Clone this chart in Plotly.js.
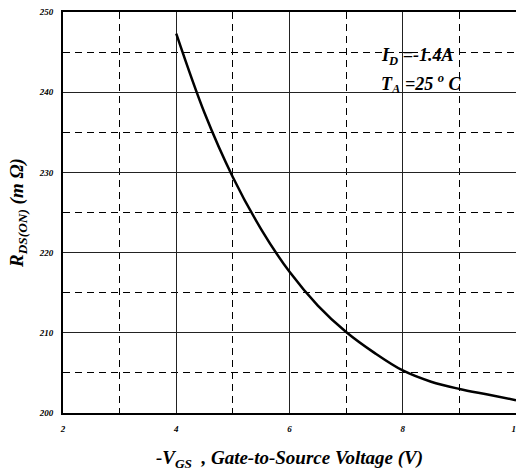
<!DOCTYPE html>
<html><head><meta charset="utf-8">
<script src="https://cdn.plot.ly/plotly-3.0.1.min.js"></script>
<style>html,body{margin:0;padding:0;background:#fff}</style>
</head><body><div id="chart" style="width:516px;height:474px"></div>
<script>
const vgs = [4.0, 4.5, 5.0, 5.5, 6.0, 6.5, 7.0, 7.5, 8.0, 8.5, 9.0, 9.5, 10.0];
const rdson = [247.3, 237.4, 229.4, 222.9, 217.6, 213.4, 210.1, 207.5, 205.3, 203.9, 203.0, 202.3, 201.6];
const xTicks = [2, 4, 6, 8, 10];
const yTicks = [200, 210, 220, 230, 240, 250];

const serif = 'Liberation Serif, Times New Roman, serif';
const tickFont = {family: serif, size: 9, color: '#000', weight: 'bold', style: 'italic'};
const annFont = {family: serif, size: 18, color: '#000', weight: 'bold', style: 'italic'};

Plotly.newPlot('chart', [{
  x: vgs, y: rdson, type: 'scatter', mode: 'lines',
  line: {color: '#000', width: 2.5, shape: 'spline', smoothing: 1},
  hoverinfo: 'skip'
}], {
  width: 516, height: 474,
  margin: {l: 63, r: 0, t: 12, b: 61},
  paper_bgcolor: '#fff', plot_bgcolor: '#fff',
  showlegend: false,
  xaxis: {
    range: [2, 10], tickvals: xTicks, ticktext: xTicks.map(String),
    tickfont: tickFont, ticks: '', ticklabelstandoff: 6, ticklabeloverflow: 'allow',
    showline: true, linecolor: '#000', linewidth: 2, mirror: true,
    showgrid: true, gridcolor: '#222', gridwidth: 1,
    minor: {dtick: 1, showgrid: true, gridcolor: '#000', gridwidth: 1, griddash: '7px,5px'},
    zeroline: false,
    title: {text: '-V<sub>GS</sub>&nbsp; , Gate-to-Source Voltage (V)', standoff: 18,
      font: {family: serif, size: 19, color: '#000', weight: 'bold', style: 'italic'}}
  },
  yaxis: {
    range: [200, 250], tickvals: yTicks, ticktext: yTicks.map(String),
    tickfont: tickFont, ticks: '', ticklabelstandoff: 6,
    showline: true, linecolor: '#000', linewidth: 2, mirror: true,
    showgrid: true, gridcolor: '#222', gridwidth: 1,
    minor: {dtick: 5, showgrid: true, gridcolor: '#000', gridwidth: 1, griddash: '7px,5px'},
    zeroline: false,
    title: {text: 'R<sub>DS(ON)</sub> (m Ω)', standoff: 10,
      font: {family: serif, size: 19, color: '#000', weight: 'bold', style: 'italic'}}
  },
  annotations: [
    {xref: 'paper', yref: 'paper', x: 0.697, y: 0.89, xanchor: 'left', yanchor: 'middle', showarrow: false,
     text: 'I<sub>D</sub> =-1.4A', font: annFont},
    {xref: 'paper', yref: 'paper', x: 0.697, y: 0.822, xanchor: 'left', yanchor: 'middle', showarrow: false,
     text: 'T<sub>A</sub> =25 <sup>o</sup> C', font: annFont}
  ]
}, {displayModeBar: false, staticPlot: true});
</script></body></html>
